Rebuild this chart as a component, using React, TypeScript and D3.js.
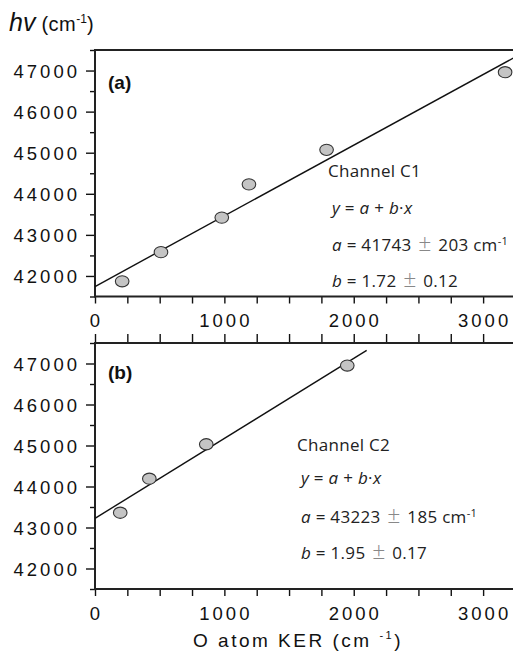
import React, { useEffect, useRef } from 'react';
import * as d3 from 'd3';

// channel C1 (panel a)
const kerC1 = [210, 510, 980, 1190, 1790, 3170];
const hvC1 = [41870, 42580, 43420, 44230, 45070, 46960];
const fitC1 = { a: 41743, b: 1.72, xEnd: 3300 };

// channel C2 (panel b)
const kerC2 = [195, 420, 860, 1950];
const hvC2 = [43360, 44190, 45030, 46950];
const fitC2 = { a: 43223, b: 1.95, xEnd: 2100 };

const yMajor = [42000, 43000, 44000, 45000, 46000, 47000];
const yMinor = [41500, 42500, 43500, 44500, 45500, 46500, 47500];
const xMajor = [0, 1000, 2000, 3000];
const xMinor = [250, 500, 750, 1250, 1500, 1750, 2250, 2500, 2750, 3250];

const TICK_FONT = "'Liberation Sans', Arial, sans-serif";
const NOTE_FONT = "'Open Sans', 'Noto Sans', sans-serif";

const App = () => {
  const svgRef = useRef<SVGSVGElement>(null);

  useEffect(() => {
    const svg = d3.select(svgRef.current);
    const left = 95;

    const x = d3.scaleLinear().domain([0, 3300]).range([left, left + 3300 * 0.12937]);

    const panels = [
      { top: 50, bottom: 296.5, kx: kerC1, ky: hvC1, fit: fitC1, label: '(a)', labelY: 89,
        note: { x: 328, name: 'Channel C1', ys: [177, 214, 251, 287], a: '41743', da: '203', b: '1.72', db: '0.12' } },
      { top: 343, bottom: 589, kx: kerC2, ky: hvC2, fit: fitC2, label: '(b)', labelY: 379,
        note: { x: 297, name: 'Channel C2', ys: [451, 484, 523, 559], a: '43223', da: '185', b: '1.95', db: '0.17' } },
    ];

    panels.forEach((p, i) => {
      const y = d3.scaleLinear().domain([41500, 47500]).range([p.bottom, p.top]);
      const g = svg.append('g');

      // y axis ticks
      g.append('g')
        .attr('transform', `translate(${left},0)`)
        .call(d3.axisLeft(y).tickValues(yMajor).tickSize(9).tickSizeOuter(0).tickFormat(d3.format('d')))
        .call((s) => s.select('.domain').remove())
        .call((s) => s.selectAll('line').attr('stroke', '#111').attr('stroke-width', 1.4))
        .call((s) =>
          s.selectAll('text')
            .attr('font-family', TICK_FONT)
            .attr('font-size', 18.5)
            .attr('letter-spacing', 3)
            .attr('fill', '#111')
            .attr('x', -15)
            .attr('dy', '0.36em')
        );
      g.append('g')
        .attr('transform', `translate(${left},0)`)
        .call(d3.axisLeft(y).tickValues(yMinor).tickSize(5).tickSizeOuter(0).tickFormat(() => ''))
        .call((s) => s.select('.domain').remove())
        .call((s) => s.selectAll('line').attr('stroke', '#111').attr('stroke-width', 1.4));

      // x axis ticks (bottom)
      g.append('g')
        .attr('transform', `translate(0,${p.bottom})`)
        .call(d3.axisBottom(x).tickValues([...xMajor, ...xMinor]).tickSize(7).tickSizeOuter(0).tickFormat(() => ''))
        .call((s) => s.select('.domain').remove())
        .call((s) => s.selectAll('line').attr('stroke', '#111').attr('stroke-width', 1.4));

      xMajor.forEach((v) => {
        g.append('text')
          .attr('x', x(v) + 1.5)
          .attr('y', p.bottom + 30.5)
          .attr('text-anchor', 'middle')
          .attr('font-family', TICK_FONT)
          .attr('font-size', 18.5)
          .attr('letter-spacing', 3)
          .attr('fill', '#111')
          .text(String(v));
      });

      if (i === 1) {
        g.append('g')
          .attr('transform', `translate(0,${p.top})`)
          .call(d3.axisTop(x).tickValues([...xMajor, ...xMinor]).tickSize(9).tickSizeOuter(0).tickFormat(() => ''))
          .call((s) => s.select('.domain').remove())
          .call((s) => s.selectAll('line').attr('stroke', '#111').attr('stroke-width', 1.4));
      }

      // frame
      g.append('line').attr('x1', left).attr('x2', 520).attr('y1', p.top).attr('y2', p.top)
        .attr('stroke', '#222').attr('stroke-width', 2);
      g.append('line').attr('x1', left).attr('x2', 520).attr('y1', p.bottom).attr('y2', p.bottom)
        .attr('stroke', '#222').attr('stroke-width', 2);
      g.append('line').attr('x1', left).attr('x2', left).attr('y1', p.top - 1).attr('y2', p.bottom + 1)
        .attr('stroke', '#222').attr('stroke-width', 2);

      // fit line
      const line = d3.line<number>().x((d) => x(d)).y((d) => y(p.fit.a + p.fit.b * d));
      g.append('path')
        .datum([0, p.fit.xEnd])
        .attr('d', line)
        .attr('fill', 'none')
        .attr('stroke', '#111')
        .attr('stroke-width', 1.4);

      // points
      g.selectAll('ellipse.pt')
        .data(p.kx.map((k, j) => [k, p.ky[j]]))
        .enter()
        .append('ellipse')
        .attr('cx', (d) => x(d[0]))
        .attr('cy', (d) => y(d[1]))
        .attr('rx', 6.8)
        .attr('ry', 5.6)
        .attr('fill', '#c4c4c4')
        .attr('stroke', '#333')
        .attr('stroke-width', 1.1);

      // panel label
      g.append('text')
        .attr('x', 108)
        .attr('y', p.labelY)
        .attr('font-family', TICK_FONT)
        .attr('font-weight', 'bold')
        .attr('font-size', 19)
        .attr('fill', '#111')
        .text(p.label);

      // annotation
      const n = p.note;
      const base = { 'font-family': NOTE_FONT, 'font-size': 17, fill: '#222', 'letter-spacing': 0.3 };
      const mk = (xx: number, yy: number) => {
        const t = g.append('text').attr('x', xx).attr('y', yy);
        Object.entries(base).forEach(([k, v]) => t.attr(k, v as any));
        return t;
      };
      const pm = (t: any) =>
        t.append('tspan').attr('fill', '#888').attr('font-size', 23).attr('font-weight', 300).attr('dx', 2).text('±');

      mk(n.x, n.ys[0]).text(n.name);

      const t1 = mk(n.x + 4, n.ys[1]);
      t1.append('tspan').attr('font-style', 'italic').text('y');
      t1.append('tspan').text(' = ');
      t1.append('tspan').attr('font-style', 'italic').text('a');
      t1.append('tspan').text(' + ');
      t1.append('tspan').attr('font-style', 'italic').text('b');
      t1.append('tspan').text('·');
      t1.append('tspan').attr('font-style', 'italic').text('x');

      const t2 = mk(n.x + 4, n.ys[2]);
      t2.append('tspan').attr('font-style', 'italic').text('a');
      t2.append('tspan').text(` = ${n.a} `);
      pm(t2);
      t2.append('tspan').attr('dx', 2).text(` ${n.da} cm`);
      t2.append('tspan').attr('font-size', 11).attr('dy', -6).text('-1');

      const t3 = mk(n.x + 4, n.ys[3]);
      t3.append('tspan').attr('font-style', 'italic').text('b');
      t3.append('tspan').text(` = ${n.b} `);
      pm(t3);
      t3.append('tspan').attr('dx', 2).text(` ${n.db}`);
    });

    // y axis title
    const yt = svg.append('text').attr('x', 9).attr('y', 31).attr('fill', '#111').attr('font-family', TICK_FONT);
    yt.append('tspan').attr('font-style', 'italic').attr('font-size', 25).text('hv');
    yt.append('tspan').attr('font-size', 20).attr('letter-spacing', 0.5).text(' (cm');
    yt.append('tspan').attr('font-size', 12).attr('dy', -8).text('-1');
    yt.append('tspan').attr('font-size', 20).attr('dy', 8).text(')');

    // x axis title
    const xt = svg.append('text')
      .attr('x', 298)
      .attr('y', 647)
      .attr('text-anchor', 'middle')
      .attr('fill', '#111')
      .attr('font-family', TICK_FONT)
      .attr('font-size', 19)
      .attr('letter-spacing', 2.5);
    xt.append('tspan').text('O atom KER (cm ');
    xt.append('tspan').attr('font-size', 11).attr('dy', -8).text('-1');
    xt.append('tspan').attr('dy', 8).text(')');

    return () => {
      svg.selectAll('*').remove();
    };
  }, []);

  return (
    <svg
      ref={svgRef}
      width={513}
      height={659}
      style={{ position: 'absolute', left: 0, top: 0, background: '#fff' }}
    ></svg>
  );
};

export default App;
